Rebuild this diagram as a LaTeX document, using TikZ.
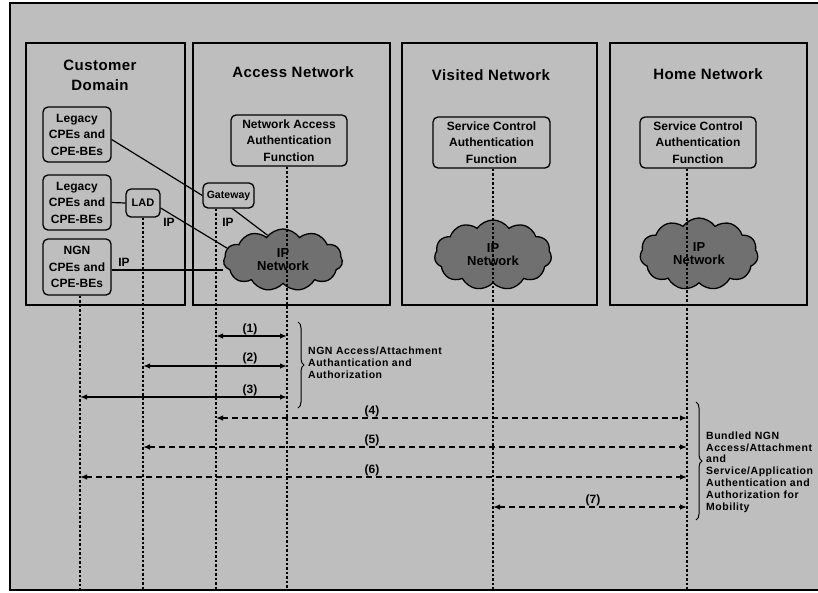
\documentclass[tikz,border=0pt]{standalone}
\usepackage{fontspec}
\setmainfont{Liberation Sans}
\newfontfamily\titlefont{Liberation Sans Bold}[LetterSpace=3]
\newfontfamily\boxfont{Liberation Sans Bold}[LetterSpace=0.5]
\newfontfamily\smallfont{Liberation Sans Bold}[LetterSpace=5]
\usetikzlibrary{arrows.meta,shapes.symbols,decorations.pathreplacing,calc}
\definecolor{bggray}{RGB}{190,190,190}
\definecolor{cloudgray}{RGB}{112,112,112}
\tikzset{
  domainbox/.style={draw, line width=1.4pt},
  titletext/.style={font=\titlefont\fontsize{15}{20}\selectfont, align=center},
  func/.style={draw, line width=1.3pt, rounded corners=5pt, align=center, inner sep=1pt,
               font=\boxfont\fontsize{12}{16.5}\selectfont},
  ipcloud/.style={cloud, cloud puffs=11, cloud puff arc=110, aspect=1.8, draw, line width=1.3pt,
               fill=cloudgray, align=center, inner sep=0pt, font=\boxfont\fontsize{13}{13}\selectfont},
  link/.style={line width=1.2pt},
  life/.style={line width=1.2pt, dash pattern=on 2.5pt off 2pt},
  solidarr/.style={line width=1.4pt, {Latex[length=7pt,width=5.5pt]}-{Latex[length=7pt,width=5.5pt]}},
  dasharr/.style={line width=1.3pt, dash pattern=on 6pt off 4pt, {Latex[length=7pt,width=5.5pt]}-{Latex[length=7pt,width=5.5pt]}},
  num/.style={font=\boxfont\fontsize{12}{12}\selectfont, inner sep=1pt},
  iplab/.style={font=\boxfont\fontsize{12}{12}\selectfont, inner sep=0pt},
  bracetext/.style={font=\smallfont\fontsize{10.5}{11.8}\selectfont, align=left, anchor=west, inner sep=0pt},
  brc/.style={decorate, decoration={brace, amplitude=6pt}, line width=1pt}
}
\begin{document}
\begin{tikzpicture}[x=1pt, y=-1pt]
\useasboundingbox (0,0) rectangle (818,592);
\fill[white] (0,0) rectangle (818,592);
\fill[bggray] (10,3) rectangle (818,590);
\draw[line width=1.3pt] (818,3) -- (10,3) -- (10,590) -- (818,590);

% domains
\draw[domainbox] (26,43) rectangle (185,305);
\draw[domainbox] (193,43) rectangle (390,305);
\draw[domainbox] (402,43) rectangle (597,305);
\draw[domainbox] (610,43) rectangle (807,305);

\node[titletext] (tcust) at (100,75) {Customer\\Domain};
\node[titletext] (tacc) at (293,72) {Access Network};
\node[titletext] (tvis) at (491,75) {Visited Network};
\node[titletext] (thome) at (708,74) {Home Network};

% functional nodes
\node[func, minimum width=68pt, minimum height=55pt] (leg1) at (77,134.5) {Legacy\\CPEs and\\CPE-BEs};
\node[func, minimum width=68pt, minimum height=55pt] (leg2) at (77,202.5) {Legacy\\CPEs and\\CPE-BEs};
\node[func, minimum width=68pt, minimum height=56pt] (ngn) at (77,267) {NGN\\CPEs and\\CPE-BEs};
\node[func, minimum width=34pt, minimum height=28pt, font=\boxfont\fontsize{11}{13}\selectfont] (lad) at (143,203) {LAD};
\node[func, minimum width=116pt, minimum height=51pt] (naaf) at (289,140.5) {Network Access\\Authentication\\Function};
\node[func, minimum width=51pt, minimum height=25pt, font=\boxfont\fontsize{10.5}{13}\selectfont] (gw) at (228.5,195.5) {Gateway};
\node[func, minimum width=117pt, minimum height=51pt] (vscaf) at (491.5,142.5) {Service Control\\Authentication\\Function};
\node[func, minimum width=116pt, minimum height=51pt] (hscaf) at (698,142.5) {Service Control\\Authentication\\Function};

\node[ipcloud, minimum width=119pt, minimum height=62pt] (acloud) at (283,260) {IP\\Network};
\node[ipcloud, minimum width=117pt, minimum height=70pt] (vcloud) at (493,255) {IP\\Network};
\node[ipcloud, minimum width=118pt, minimum height=72pt] (hcloud) at (699,254) {IP\\Network};

% links
\draw[link] (leg1.east) ++(0,5) coordinate (l1e) -- (gw.west);
\draw[link] (leg2.east) -- (lad.west);
\draw[link] (lad.east) ++(0,5) -- (acloud.168);
\draw[link] (gw.south) ++(4,0) -- (acloud.122);
\draw[link] (ngn.east) ++(0,3) coordinate (ngnE) -- (ngnE -| acloud.west);
\node[iplab] (ip1) at (169,222) {IP};
\node[iplab] (ip2) at (228,222) {IP};
\node[iplab] (ip3) at (124,262) {IP};

% lifelines
\coordinate (cEnd) at (80,590);
\coordinate (lEnd) at (143,590);
\coordinate (gEnd) at (216,590);
\coordinate (nEnd) at (287,590);
\coordinate (vEnd) at (493,590);
\coordinate (hEnd) at (687,590);
\draw[life] (ngn.south -| cEnd) -- (cEnd);
\draw[life] (lad.south -| lEnd) -- (lEnd);
\draw[life] (gw.south -| gEnd) -- (gEnd);
\draw[life] (naaf.south -| nEnd) -- (nEnd);
\draw[life] (vscaf.south -| vEnd) -- (vEnd);
\draw[life] (hscaf.south -| hEnd) -- (hEnd);

% message arrows
\draw[solidarr] (gEnd |- 0,336) -- (nEnd |- 0,336);
\draw[solidarr] (lEnd |- 0,366) -- (nEnd |- 0,366);
\draw[solidarr] (cEnd |- 0,397) -- (nEnd |- 0,397);
\draw[dasharr] (gEnd |- 0,418) -- (hEnd |- 0,418);
\draw[dasharr] (lEnd |- 0,447) -- (hEnd |- 0,447);
\draw[dasharr] (cEnd |- 0,477) -- (hEnd |- 0,477);
\draw[dasharr] (vEnd |- 0,507) -- (hEnd |- 0,507);
\node[num] (n1) at (250,329) {(1)};
\node[num] (n2) at (250,358) {(2)};
\node[num] (n3) at (250,390) {(3)};
\node[num] (n4) at (372,411) {(4)};
\node[num] (n5) at (372,440) {(5)};
\node[num] (n6) at (372,470) {(6)};
\node[num] (n7) at (593,500) {(7)};

% braces
\coordinate (b1a) at (298,322);
\coordinate (b1b) at (298,408);
\draw[brc] (b1a) -- (b1b);
\node[bracetext] (t1) at (308,363) {NGN Access/Attachment\\Authantication and\\Authorization};
\coordinate (b2a) at (696,402);
\coordinate (b2b) at (696,520);
\draw[brc] (b2a) -- (b2b);
\node[bracetext] (t2) at (706,472) {Bundled NGN\\Access/Attachment\\and\\Service/Application\\Authentication and\\Authorization for\\Mobility};
\end{tikzpicture}
\end{document}
